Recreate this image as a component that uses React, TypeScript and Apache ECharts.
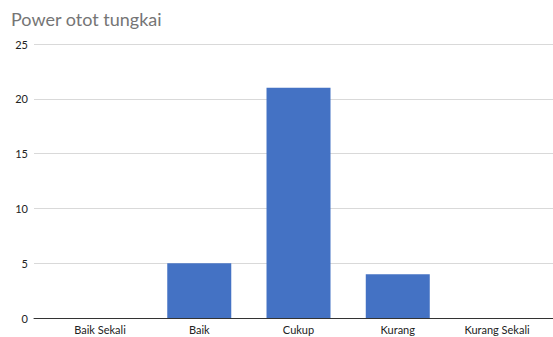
import React, { useEffect, useRef } from "react";
import * as echarts from "echarts";

const categories = ["Baik Sekali", "Baik", "Cukup", "Kurang", "Kurang Sekali"];
const values = [0, 5, 21, 4, 0];
const yTicks = [0, 5, 10, 15, 20, 25];

export default function App() {
  const ref = useRef<HTMLDivElement>(null);
  useEffect(() => {
    if (!ref.current) return;
    const chart = echarts.init(ref.current, undefined, { renderer: "svg" });
    chart.setOption({
      animation: false,
      backgroundColor: "#ffffff",
      textStyle: { fontFamily: "Lato" },
      title: {
        text: "Power otot tungkai",
        left: 6,
        top: 5,
        textStyle: { fontFamily: "Lato", fontSize: 18, fontWeight: "normal", color: "#757575" },
      },
      grid: { left: 34, right: 0, top: 44, bottom: 19, containLabel: false },
      xAxis: {
        type: "value",
        min: -0.665,
        max: 4.564,
        splitLine: { show: false },
        axisTick: { show: false },
        axisLine: { show: true, lineStyle: { color: "#333333", width: 1 } },
        axisLabel: {
          customValues: categories.map((_, i) => i),
          formatter: (v: number) => categories[Math.round(v)] ?? "",
          color: "#222222",
          fontSize: 11,
          fontFamily: "Lato",
          margin: 6,
        },
      },
      yAxis: {
        type: "value",
        min: 0,
        max: 25,
        interval: 5,
        axisLine: { show: false },
        axisTick: { show: false },
        splitLine: { lineStyle: { color: "#d9d9d9", width: 1 } },
        axisLabel: {
          customValues: yTicks,
          color: "#222222",
          fontSize: 11,
          fontFamily: "Lato",
          margin: 6,
        },
      },
      series: [
        {
          type: "bar",
          data: values.map((v, i) => [i, v]),
          barWidth: 64,
          itemStyle: { color: "#4472c4" },
        },
      ],
    });
    return () => chart.dispose();
  }, []);
  return <div ref={ref} style={{ width: 553, height: 337, position: "fixed", left: 0, top: 0 }} />;
}
